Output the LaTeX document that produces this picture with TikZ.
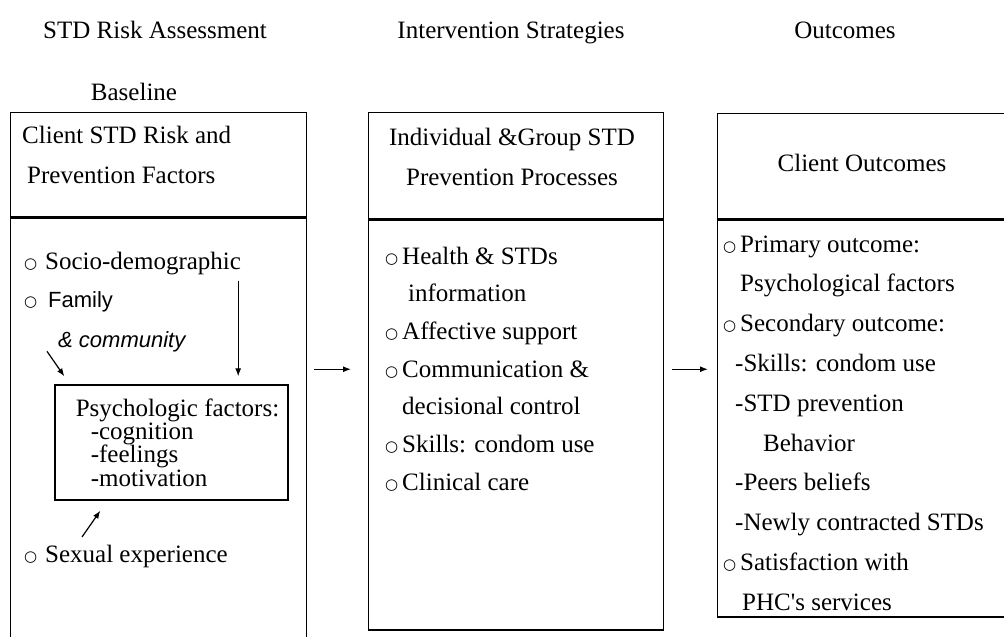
\documentclass[tikz,border=0pt]{standalone}
\usepackage{fontspec}
\setmainfont{Liberation Serif}
\newfontfamily\symfont{DejaVu Sans}
\newfontfamily\gothfont{Liberation Sans}
\usetikzlibrary{arrows.meta,positioning}

\newcommand{\bul}[1][17pt]{\makebox[#1][l]{\raisebox{1pt}{\symfont\fontsize{15}{15}\selectfont ○}}}

\tikzset{
    panel/.style={draw, line width=1.3pt, inner sep=0pt, anchor=north west},
    line/.style={anchor=base west, inner sep=0pt, font=\fontsize{25}{30}\selectfont},
    head/.style={inner sep=0pt, font=\fontsize{25}{40}\selectfont},
    arr/.style={-{Latex[length=8pt,width=6pt]}, line width=1.2pt},
}

\begin{document}
\begin{tikzpicture}[x=1pt, y=-1pt]
    \clip (0,0) rectangle (1004,637);
    \node[head, anchor=base] (hrisk) at (155,38) {STD Risk Assessment};
    \node[head, anchor=base] (hinter) at (511,38) {Intervention Strategies};
    \node[head, anchor=base] (hout) at (845,38) {Outcomes};
    \node[head, anchor=base] (hbase) at (134,100) {Baseline};

    \node[panel, minimum width=296pt, minimum height=104pt] (risktitle) at (10,112) {};
    \node[panel, minimum width=296pt, minimum height=450pt, below=0pt of risktitle] (riskbody) {};
    \node[panel, minimum width=295pt, minimum height=106pt] (proctitle) at (368,112) {};
    \node[panel, minimum width=295pt, minimum height=410pt, below=0pt of proctitle] (procbody) {};
    \node[panel, minimum width=300pt, minimum height=105pt] (outtitle) at (717,113) {};
    \node[panel, minimum width=300pt, minimum height=397pt, below=0pt of outtitle] (outbody) {};

    \node[head, anchor=west, align=left] (risktitletext) at (22,155) {Client STD Risk and\\\hspace*{5pt}Prevention Factors};
    \node[head, align=center] (proctitletext) at (512,157) {Individual \&Group STD\\Prevention Processes};
    \node[head] (outtitletext) at (862,163) {Client Outcomes};

    \node[line] (socio) at (24,269) {\bul[21pt]Socio-demographic};
    \node[line] (family) at (24,307) {\bul[24pt]{\gothfont\fontsize{22}{26}\selectfont Family}};
    \node[line] (comm) at (58,347) {\gothfont\itshape\fontsize{22}{26}\selectfont \& community};
    \node[line] (sexexp) at (24,562) {\bul[21pt]Sexual experience};
    \node[panel, anchor=center, minimum width=233pt, minimum height=115pt, align=left,
        font=\fontsize{25}{23.3}\selectfont] (psybox) at (171.5,442.5)
        {\hspace*{12pt}Psychologic factors:\\\hspace*{27pt}-cognition\\\hspace*{27pt}-feelings\\\hspace*{27pt}-motivation};

    \foreach \txt [count=\i] in {{\bul Health \& STDs}, {\hspace*{23pt}information},
        {\bul Affective support}, {\bul Communication \&}, {\hspace*{17pt}decisional control},
        {\bul Skills: condom use}, {\bul Clinical care}}
        \node[line] (proc\i) at (385,226.3+37.7*\i) {\txt};

    \foreach \txt [count=\i] in {{\bul Primary outcome:}, {\hspace*{17pt}Psychological factors},
        {\bul Secondary outcome:}, {\hspace*{12pt}-Skills: condom use}, {\hspace*{12pt}-STD prevention},
        {\hspace*{40pt}Behavior}, {\hspace*{12pt}-Peers beliefs}, {\hspace*{12pt}-Newly contracted STDs},
        {\bul Satisfaction with}, {\hspace*{19pt}PHC\textquotesingle s services}}
        \node[line] (out\i) at (723,212.2+39.8*\i) {\txt};

    \draw[arr, shorten <=6pt, shorten >=8pt] ([xshift=-3pt]socio.south east) -- ([xshift=-3pt]socio.south east |- psybox.north);
    \draw[arr] ([shift={(-11,10)}]comm.west) -- ([shift={(10,-8)}]psybox.north west);
    \draw[arr] ([shift={(58,-25)}]sexexp.base west) -- ([shift={(46,10)}]psybox.south west);
    \draw[arr, shorten <=7pt, shorten >=17pt] (riskbody.east |- proc4.west) -- (procbody.west |- proc4.west);
    \draw[arr, shorten <=8pt, shorten >=9pt] (procbody.east |- proc4.west) -- (outbody.west |- proc4.west);
\end{tikzpicture}
\end{document}
